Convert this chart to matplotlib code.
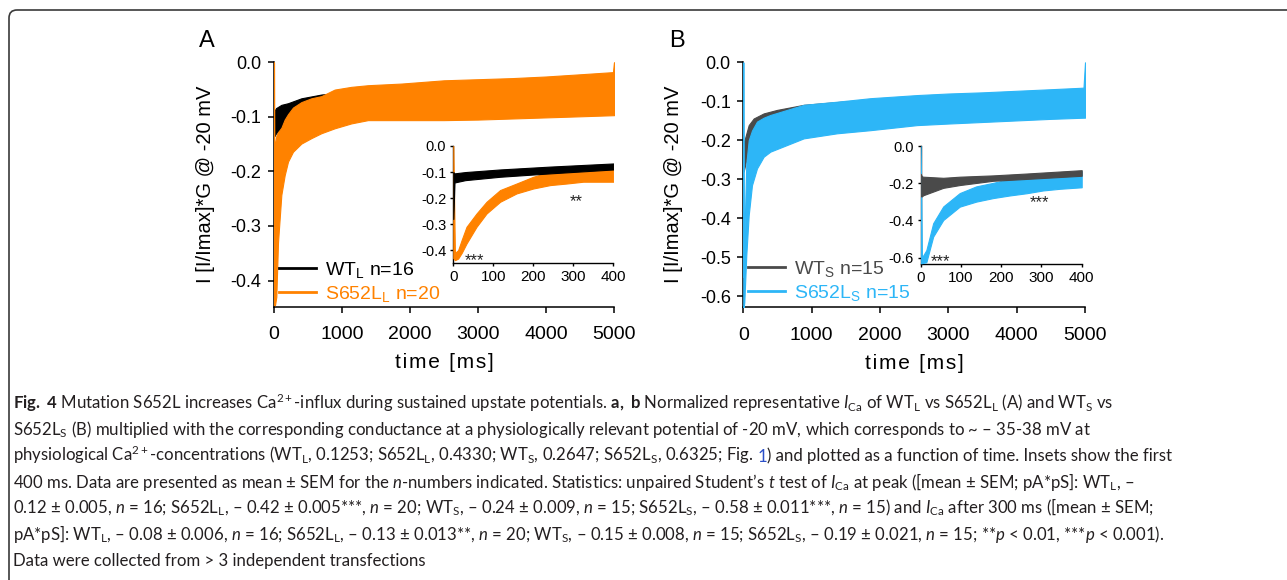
import matplotlib
matplotlib.use('Agg')
import matplotlib.pyplot as plt
from matplotlib import font_manager
from matplotlib.patches import FancyBboxPatch
from matplotlib.transforms import IdentityTransform
from matplotlib.lines import Line2D

_names = {f.name for f in font_manager.fontManager.ttflist}
CAP_FONT = next((n for n in ['Liberation Sans Narrow', 'DejaVu Sans Condensed', 'Lato'] if n in _names), 'Lato')

plt.rcParams['font.family'] = ['Liberation Sans', 'DejaVu Sans']
plt.rcParams['axes.unicode_minus'] = False
plt.rcParams['mathtext.fontset'] = 'custom'
plt.rcParams['mathtext.rm'] = CAP_FONT
plt.rcParams['mathtext.it'] = CAP_FONT + ':italic'
plt.rcParams['mathtext.bf'] = CAP_FONT + ':bold'
plt.rcParams['mathtext.sf'] = 'Liberation Sans'

# ---------------- data (envelopes of the noisy traces) -------------
# Panel A, main: WT_L (black)
A_wt_t = [0, 8, 30, 108, 206, 402, 700, 1000, 2000, 3000, 4000, 5000]
A_wt_hi = [-0.085, -0.09, -0.084, -0.078, -0.075, -0.066, -0.059, -0.056, -0.05, -0.048, -0.045, -0.043]
A_wt_lo = [-0.135, -0.135, -0.13, -0.121, -0.112, -0.10, -0.09, -0.085, -0.08, -0.078, -0.075, -0.073]
# Panel A, main: S652L_L (orange)
A_mut_t = [0, 5, 15, 34, 59, 108, 157, 206, 279, 402, 549, 696, 892, 1137, 1382, 1872,
           2500, 3000, 3500, 4000, 4500, 4985, 5000]
A_mut_hi = [0.0, -0.20, -0.15, -0.135, -0.128, -0.12, -0.105, -0.095, -0.083, -0.073, -0.066,
            -0.062, -0.050, -0.045, -0.042, -0.039, -0.033, -0.031, -0.029, -0.026, -0.022, -0.018, 0.0]
A_mut_lo = [-0.445, -0.445, -0.445, -0.43, -0.33, -0.243, -0.207, -0.182, -0.164, -0.149, -0.139,
            -0.130, -0.121, -0.112, -0.106, -0.106, -0.106, -0.105, -0.103, -0.101, -0.099, -0.097, -0.097]
# Panel A, inset (first 400 ms)
Ai_mut_t = [0, 4, 12, 21, 33, 58, 83, 117, 158, 200, 242, 283, 325, 400]
Ai_mut_hi = [0.0, -0.41, -0.40, -0.36, -0.31, -0.259, -0.214, -0.169, -0.144, -0.118, -0.099, -0.086, -0.079, -0.073]
Ai_mut_lo = [-0.43, -0.438, -0.432, -0.41, -0.374, -0.31, -0.259, -0.214, -0.182, -0.163, -0.15, -0.144, -0.137, -0.137]
Ai_wt_t = [0, 3, 30, 117, 242, 400]
Ai_wt_hi = [-0.10, -0.105, -0.10, -0.09, -0.079, -0.067]
Ai_wt_lo = [-0.28, -0.14, -0.131, -0.118, -0.105, -0.09]

# Panel B, main: WT_S (grey)
B_wt_t = [0, 5, 25, 79, 152, 298, 494, 884, 1500, 2500, 3500, 4500, 5000]
B_wt_hi = [-0.2, -0.21, -0.195, -0.161, -0.144, -0.131, -0.122, -0.109, -0.1, -0.093, -0.088, -0.083, -0.082]
B_wt_lo = [-0.28, -0.28, -0.265, -0.221, -0.2, -0.18, -0.16, -0.14, -0.13, -0.125, -0.12, -0.115, -0.115]
# Panel B, main: S652L_S (blue)
B_mut_t = [0, 5, 15, 44, 79, 127, 200, 298, 396, 640, 884, 1372, 1860, 2543, 3000, 3500,
           4000, 4500, 4978, 5000]
B_mut_hi = [0.0, -0.55, -0.45, -0.26, -0.2, -0.175, -0.152, -0.142, -0.135, -0.122, -0.109,
            -0.101, -0.092, -0.084, -0.08, -0.077, -0.073, -0.069, -0.065, 0.0]
B_mut_lo = [-0.63, -0.63, -0.614, -0.494, -0.392, -0.315, -0.272, -0.242, -0.229, -0.212, -0.195,
            -0.182, -0.174, -0.161, -0.157, -0.153, -0.149, -0.145, -0.142, -0.142]
# Panel B, inset (first 400 ms)
Bi_mut_t = [0, 3, 14, 31, 56, 97, 138, 180, 221, 263, 304, 346, 400]
Bi_mut_hi = [0.0, -0.60, -0.56, -0.415, -0.325, -0.253, -0.217, -0.198, -0.177, -0.163, -0.153, -0.144, -0.136]
Bi_mut_lo = [-0.63, -0.63, -0.625, -0.487, -0.398, -0.326, -0.299, -0.28, -0.266, -0.254, -0.239, -0.23, -0.222]
Bi_wt_t = [0, 3, 6, 56, 97, 180, 263, 400]
Bi_wt_hi = [-0.15, -0.163, -0.165, -0.171, -0.165, -0.158, -0.148, -0.13]
Bi_wt_lo = [-0.27, -0.271, -0.265, -0.225, -0.21, -0.187, -0.177, -0.16]

# ticks
main_xticks = [0, 1000, 2000, 3000, 4000, 5000]
main_xticklabels = ['0', '1000', '2000', '3000', '4000', '5000']
A_yticks = [0.0, -0.1, -0.2, -0.3, -0.4]
A_yticklabels = ['0.0', '-0.1', '-0.2', '-0.3', '-0.4']
B_yticks = [0.0, -0.1, -0.2, -0.3, -0.4, -0.5, -0.6]
B_yticklabels = ['0.0', '-0.1', '-0.2', '-0.3', '-0.4', '-0.5', '-0.6']
ins_xticks = [0, 100, 200, 300, 400]
ins_xticklabels = ['0', '100', '200', '300', '400']
Ai_yticks = [0.0, -0.1, -0.2, -0.3, -0.4]
Ai_yticklabels = ['0.0', '-0.1', '-0.2', '-0.3', '-0.4']
Bi_yticks = [0.0, -0.2, -0.4, -0.6]
Bi_yticklabels = ['0.0', '-0.2', '-0.4', '-0.6']

legend_A = ['WT$_\\mathsf{L}$ n=16', 'S652L$_\\mathsf{L}$ n=20']
legend_B = ['WT$_\\mathsf{S}$ n=15', 'S652L$_\\mathsf{S}$ n=15']
stars_A = [(54, -0.44, '***'), (307, -0.213, '**')]
stars_B = [(50, -0.622, '***'), (294, -0.307, '***')]

xlabel = 'time [ms]'
ylabel = 'I [I/Imax]*G @ -20 mV'

caption_lines = [
    r"$\mathbf{Fig.\ 4}$ Mutation S652L increases Ca$^{2+}$-influx during sustained upstate potentials. $\mathbf{a,\ b}$ Normalized representative $I_\mathrm{Ca}$ of WT$_\mathrm{L}$ vs S652L$_\mathrm{L}$ (A) and WT$_\mathrm{S}$ vs",
    r"S652L$_\mathrm{S}$ (B) multiplied with the corresponding conductance at a physiologically relevant potential of -20 mV, which corresponds to ~ – 35-38 mV at",
    r"physiological Ca$^{2+}$-concentrations (WT$_\mathrm{L}$, 0.1253; S652L$_\mathrm{L}$, 0.4330; WT$_\mathrm{S}$, 0.2647; S652L$_\mathrm{S}$, 0.6325; Fig. $1$) and plotted as a function of time. Insets show the first",
    r"400 ms. Data are presented as mean ± SEM for the $n$-numbers indicated. Statistics: unpaired Student’s $t$ test of $I_\mathrm{Ca}$ at peak ([mean ± SEM; pA*pS]: WT$_\mathrm{L}$, –",
    r"0.12 ± 0.005, $n$ = 16; S652L$_\mathrm{L}$, – 0.42 ± 0.005***, $n$ = 20; WT$_\mathrm{S}$, – 0.24 ± 0.009, $n$ = 15; S652L$_\mathrm{S}$, – 0.58 ± 0.011***, $n$ = 15) and $I_\mathrm{Ca}$ after 300 ms ([mean ± SEM;",
    r"pA*pS]: WT$_\mathrm{L}$, – 0.08 ± 0.006, $n$ = 16; S652L$_\mathrm{L}$, – 0.13 ± 0.013**, $n$ = 20; WT$_\mathrm{S}$, – 0.15 ± 0.008, $n$ = 15; S652L$_\mathrm{S}$, – 0.19 ± 0.021, $n$ = 15; **$p$ < 0.01, ***$p$ < 0.001).",
    "Data were collected from > 3 independent transfections",
]
# line 3 is drawn in three pieces so that the figure reference "1" can be blue
line3_pre = r"physiological Ca$^{2+}$-concentrations (WT$_\mathrm{L}$, 0.1253; S652L$_\mathrm{L}$, 0.4330; WT$_\mathrm{S}$, 0.2647; S652L$_\mathrm{S}$, 0.6325; Fig."
line3_pre1 = line3_pre + r" $1$"
line3_link = r"$1$"
line3_post = r") and plotted as a function of time. Insets show the first"

# ---------------- styles ----------------
C_ORANGE = '#FF8200'
C_BLUE = '#2DB6F7'
C_GREY = '#4A4A4A'
C_BLACK = '#000000'
CAP_COLOR = '#231f20'
LINK_COLOR = '#2b4fc8'

W, H = 1287, 580
fig = plt.figure(figsize=(W / 100, H / 100), dpi=100)


def px_axes(l, t, r, b):
    return fig.add_axes([l / W, 1 - b / H, (r - l) / W, (b - t) / H])


axA = px_axes(274, 62.3, 614, 306.7)
axB = px_axes(743.3, 62.3, 1085, 307.3)
insA = px_axes(453.3, 146, 613.3, 263.3)
insB = px_axes(920.7, 146, 1081.7, 264.3)


def style(ax, xt, xtl, yt, ytl, xlim, ylim, xfs, yfs, tlen, lw, xpad, ypad):
    ax.set_xlim(xlim)
    ax.set_ylim(ylim)
    ax.set_facecolor('none')
    ax.spines[['top', 'right']].set_visible(False)
    for s in ['left', 'bottom']:
        ax.spines[s].set_linewidth(lw)
    ax.set_xticks(xt)
    ax.set_xticklabels(xtl, fontsize=xfs)
    ax.set_yticks(yt)
    ax.set_yticklabels(ytl, fontsize=yfs)
    ax.tick_params(axis='x', length=tlen, width=lw, pad=xpad)
    ax.tick_params(axis='y', length=tlen, width=lw, pad=ypad)


style(axA, main_xticks, main_xticklabels, A_yticks, A_yticklabels, (0, 5000), (-0.448, 0.0), 14, 13, 4, 1.1, 10, 5)
style(axB, main_xticks, main_xticklabels, B_yticks, B_yticklabels, (0, 5000), (-0.628, 0.0), 14, 13, 4, 1.1, 10, 5)
style(insA, ins_xticks, ins_xticklabels, Ai_yticks, Ai_yticklabels, (0, 400), (-0.45, 0.0), 11, 10.5, 2.5, 1.0, 2.5, 2.5)
style(insB, ins_xticks, ins_xticklabels, Bi_yticks, Bi_yticklabels, (0, 400), (-0.636, 0.0), 11, 10.5, 2.5, 1.0, 2.5, 2.5)


def band(ax, t, lo, hi, color, z):
    ax.fill_between(t, lo, hi, color=color, lw=0.8, zorder=z)


band(axA, A_wt_t, A_wt_lo, A_wt_hi, C_BLACK, 3)
band(axA, A_mut_t, A_mut_lo, A_mut_hi, C_ORANGE, 4)
band(insA, Ai_mut_t, Ai_mut_lo, Ai_mut_hi, C_ORANGE, 3)
band(insA, Ai_wt_t, Ai_wt_lo, Ai_wt_hi, C_BLACK, 4)
band(axB, B_wt_t, B_wt_lo, B_wt_hi, C_GREY, 3)
band(axB, B_mut_t, B_mut_lo, B_mut_hi, C_BLUE, 4)
band(insB, Bi_mut_t, Bi_mut_lo, Bi_mut_hi, C_BLUE, 3)
band(insB, Bi_wt_t, Bi_wt_lo, Bi_wt_hi, C_GREY, 4)

for x, y, s in stars_A:
    insA.text(x, y, s, ha='center', va='center', fontsize=12, color='#222222')
for x, y, s in stars_B:
    insB.text(x, y, s, ha='center', va='center', fontsize=12, color='#222222')

spaced_xlabel = '\u200a'.join(xlabel)
for ax, lx in [(axA, -0.1735), (axB, -0.176)]:
    ax.set_xlabel(spaced_xlabel, fontsize=15)
    ax.set_ylabel(ylabel, fontsize=14.5)
    ax.yaxis.set_label_coords(lx, 0.5)
    ax.xaxis.set_label_coords(0.5, -0.19)


def legend(ax, labels, colors, x, y):
    handles = [Line2D([], [], color=c, lw=2) for c in colors]
    leg = ax.legend(handles, labels, loc='upper left', bbox_to_anchor=(x, y), frameon=False,
                    fontsize=14, handlelength=1.9, handletextpad=0.45, labelspacing=0.18,
                    borderpad=0, borderaxespad=0)
    for t, c in zip(leg.get_texts(), colors):
        t.set_color(c)


legend(axA, legend_A, [C_BLACK, C_ORANGE], 0.0147, 0.19)
legend(axB, legend_B, [C_GREY, C_BLUE], 0.0138, 0.197)

fig.text(207 / W, 1 - 47 / H, 'A', fontsize=17, ha='center', va='baseline')
fig.text(677 / W, 1 - 47 / H, 'B', fontsize=17, ha='center', va='baseline')

# caption box (open to the right and bottom, like the cropped original)
box = FancyBboxPatch((9, -20), 1320, 590, boxstyle='round,pad=0,rounding_size=8',
                     transform=IdentityTransform(), fill=False, lw=1.2, edgecolor='#3a3a3a')
fig.add_artist(box)

# caption: auto-fit font size to the measured line widths
cap_x = 13
cap_base0 = 409.3
cap_dy = 26.1
fs0 = 12
renderer = fig.canvas.get_renderer()
probe = []
for line in caption_lines[:6]:
    t = fig.text(0, 0.5, line, family=CAP_FONT, fontsize=fs0, color='none')
    probe.append(t)
widths = [t.get_window_extent(renderer).width for t in probe]
for t in probe:
    t.remove()
targets = [1104, 1097, 1127, 1120, 1127, 1137]
fs = fs0 * sum(targets) / sum(widths)

for i, line in enumerate(caption_lines):
    y = 1 - (cap_base0 + i * cap_dy) / H
    if i == 2:
        fig.text(cap_x / W, y, line3_pre, family=CAP_FONT, fontsize=fs, color=CAP_COLOR,
                 va='baseline', ha='left')
        tp = fig.text(0, 0.5, line3_pre1, family=CAP_FONT, fontsize=fs, color='none')
        wpre = tp.get_window_extent(renderer).width
        tp.remove()
        fig.text((cap_x + wpre) / W, y, line3_link, family=CAP_FONT, fontsize=fs,
                 color=LINK_COLOR, va='baseline', ha='right')
        fig.text((cap_x + wpre) / W, y, line3_post, family=CAP_FONT, fontsize=fs,
                 color=CAP_COLOR, va='baseline', ha='left')
    else:
        fig.text(cap_x / W, y, line, family=CAP_FONT, fontsize=fs, color=CAP_COLOR,
                 va='baseline', ha='left')

fig.savefig('out.png', dpi=100)
